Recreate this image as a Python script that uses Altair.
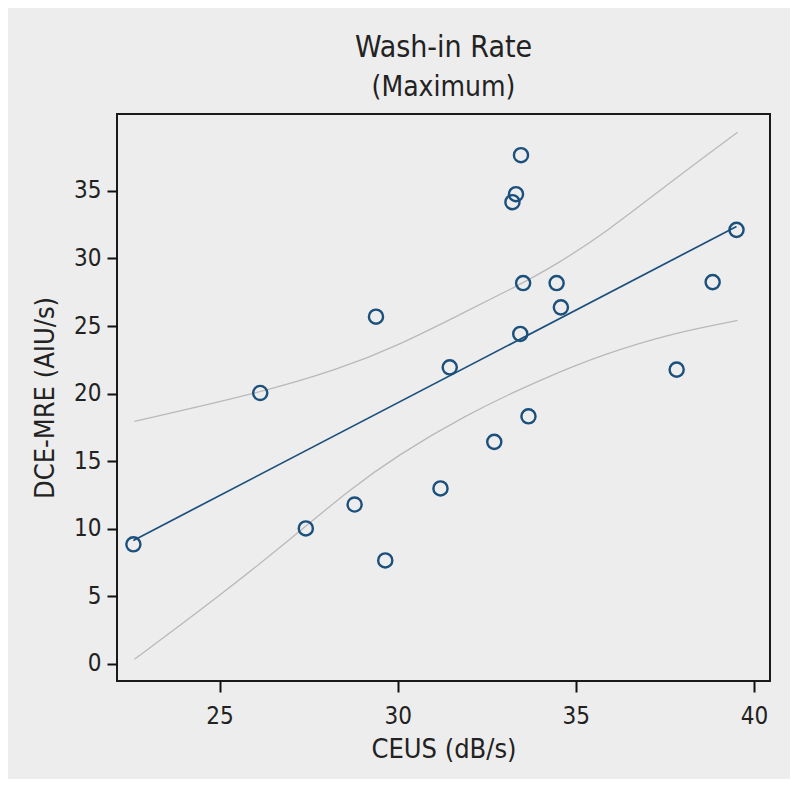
import altair as alt
import pandas as pd

ceus = [22.58, 26.14, 27.42, 28.79, 29.39, 29.65, 31.20, 31.46, 32.71, 33.22,
        33.32, 33.46, 33.44, 33.52, 33.67, 34.46, 34.58, 37.83, 38.84, 39.51]
dce = [8.83, 20.04, 10.01, 11.78, 25.69, 7.64, 12.97, 21.94, 16.42, 34.17,
       34.76, 37.65, 24.41, 28.18, 18.31, 28.18, 26.38, 21.77, 28.25, 32.12]

# Regression line
fit_x = [22.58, 39.51]
fit_y = [9.12, 32.37]

# Confidence band curves
upper_x = [22.61, 26.12, 28.37, 29.96, 31.83, 33.33, 34.36, 35.86, 37.73, 39.54]
upper_y = [17.94, 20.04, 21.82, 23.49, 25.96, 27.93, 29.40, 31.95, 35.82, 39.35]
lower_x = [22.61, 25.00, 27.15, 28.65, 29.96, 31.83, 33.99, 35.86, 37.73, 39.54]
lower_y = [0.32, 5.00, 9.56, 12.89, 15.36, 18.31, 21.03, 23.00, 24.48, 25.41]

x_ticks = [25, 30, 35, 40]
y_ticks = [0, 5, 10, 15, 20, 25, 30, 35]

FONT = "Liberation Sans Narrow, DejaVu Sans Condensed, Roboto Condensed, sans-serif"
BLUE = "#1b4f7c"
GRAY = "#b9b9b9"
BG = "#ededed"

pts = pd.DataFrame({"x": ceus, "y": dce})
fit = pd.DataFrame({"x": fit_x, "y": fit_y})
band = pd.concat([
    pd.DataFrame({"x": upper_x, "y": upper_y, "curve": "upper"}),
    pd.DataFrame({"x": lower_x, "y": lower_y, "curve": "lower"}),
])

xs = alt.Scale(domain=[22.12, 40.45], nice=False, zero=False)
ys = alt.Scale(domain=[-1.29, 40.7], nice=False, zero=False)

xax = alt.Axis(values=x_ticks, title="CEUS (dB/s)", grid=False, domain=False,
               tickColor="#111", tickWidth=2, tickSize=11,
               labelFont=FONT, labelFontSize=24, labelColor="#222", labelPadding=12,
               titleFont=FONT, titleFontSize=27, titleFontWeight="normal",
               titleColor="#222", titlePadding=8)
yax = alt.Axis(values=y_ticks, title="DCE-MRE (AIU/s)", grid=False, domain=False,
               tickColor="#111", tickWidth=2, tickSize=10,
               labelFont=FONT, labelFontSize=24, labelColor="#222", labelPadding=6,
               titleFont=FONT, titleFontSize=27, titleFontWeight="normal",
               titleColor="#222", titlePadding=14)

band_layer = alt.Chart(band).mark_line(color=GRAY, strokeWidth=1.3, interpolate="basis").encode(
    x=alt.X("x:Q", scale=xs, axis=xax),
    y=alt.Y("y:Q", scale=ys, axis=yax),
    detail="curve:N",
)
fit_layer = alt.Chart(fit).mark_line(color=BLUE, strokeWidth=1.7).encode(
    x=alt.X("x:Q", scale=xs), y=alt.Y("y:Q", scale=ys))
pt_layer = alt.Chart(pts).mark_point(shape="circle", filled=False, color=BLUE,
                                     size=200, strokeWidth=2.4, opacity=1).encode(
    x=alt.X("x:Q", scale=xs), y=alt.Y("y:Q", scale=ys))

chart = (band_layer + fit_layer + pt_layer).properties(
    width=653, height=567,
    title=alt.TitleParams(text="Wash-in Rate", subtitle="(Maximum)", anchor="middle",
                          font=FONT, fontSize=30, fontWeight="normal", color="#222",
                          subtitleFont=FONT, subtitleFontSize=28, subtitleColor="#222",
                          subtitlePadding=11, offset=12),
    autosize=alt.AutoSizeParams(type="none"),
    padding={"left": 109, "top": 106, "right": 20, "bottom": 98},
    background=BG,
).configure_view(stroke="#1a1a1a", strokeWidth=2, fill=BG)

chart.save("out.html", embed_options={"renderer": "svg", "actions": False})
